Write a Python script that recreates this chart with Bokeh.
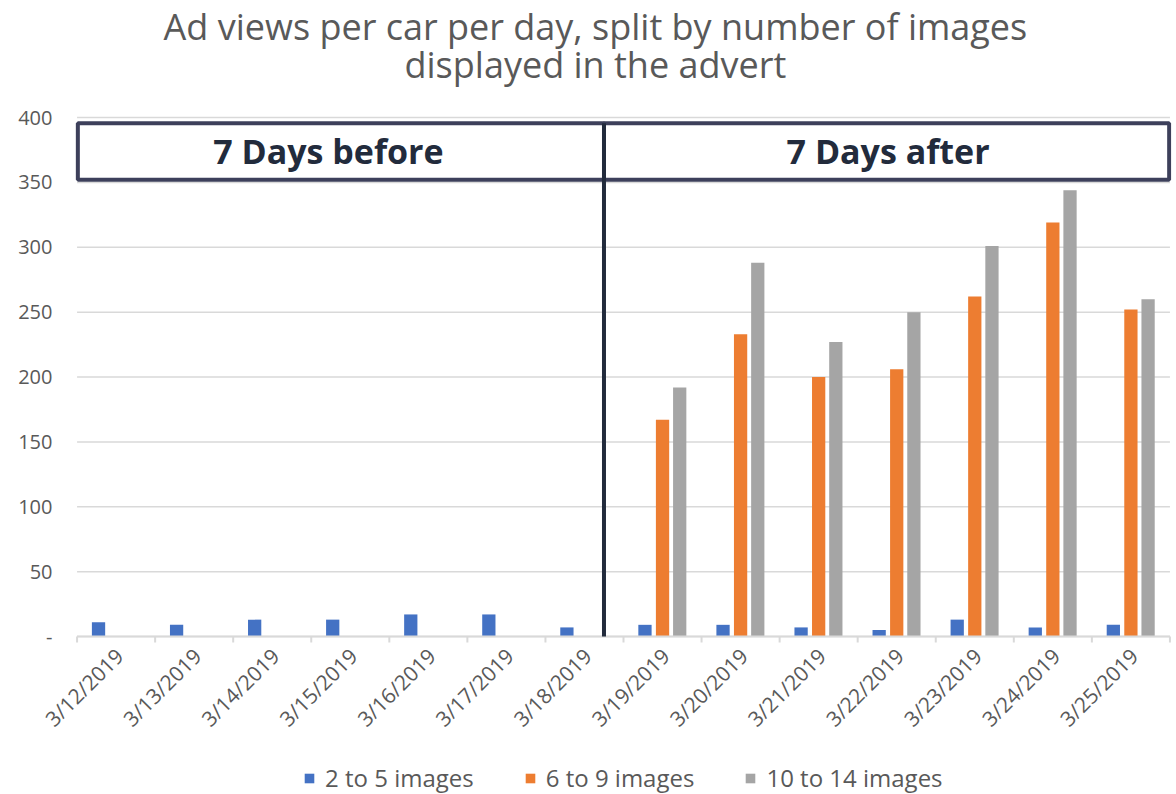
import math
from bokeh.plotting import figure
from bokeh.models import (FixedTicker, Range1d, Legend, LegendItem, ColumnDataSource)
from bokeh.core.properties import value
from bokeh.embed import file_html
from bokeh.resources import INLINE

dates = ["3/12/2019", "3/13/2019", "3/14/2019", "3/15/2019", "3/16/2019", "3/17/2019", "3/18/2019",
         "3/19/2019", "3/20/2019", "3/21/2019", "3/22/2019", "3/23/2019", "3/24/2019", "3/25/2019"]
s_2to5 = [11, 9, 13, 13, 17, 17, 7, 9, 9, 7, 5, 13, 7, 9]
s_6to9 = [0, 0, 0, 0, 0, 0, 0, 167, 233, 200, 206, 262, 319, 252]
s_10to14 = [0, 0, 0, 0, 0, 0, 0, 192, 288, 227, 250, 301, 344, 260]
series_names = ["2 to 5 images", "6 to 9 images", "10 to 14 images"]
series_colors = ["#4472c4", "#ed7d31", "#a5a5a5"]
y_ticks = [0, 50, 100, 150, 200, 250, 300, 350, 400]
period_labels = ["7 Days before", "7 Days after"]
title_lines = ["Ad views per car per day, split by number of images", "displayed in the advert"]

FONT = "Open Sans"
TXT = "#595959"
n = len(dates)
idx = list(range(n))

# The frame spans the whole page height; the value axis only runs 0-400,
# the space above holds the title and the space below the date labels and legend.
PX = 1.2975                 # pixels per value unit
Y_TOP = 400 + 117 / PX
Y_BOT = -158 / PX
X_LEFT = -0.52 - 40 / 78.06
p = figure(frame_width=1136, frame_height=794, min_border_left=35, min_border_right=2,
           min_border_top=0, min_border_bottom=0,
           x_range=Range1d(X_LEFT, n - 0.48), y_range=Range1d(Y_BOT, Y_TOP),
           output_backend="svg", toolbar_location=None, title=None)
p.outline_line_color = None
p.background_fill_color = "white"
p.xaxis.visible = False
p.xgrid.grid_line_color = None
p.ygrid.grid_line_color = None

# value gridlines across the category area
p.segment(x0=[-0.5] * len(y_ticks), x1=[n - 0.5] * len(y_ticks), y0=y_ticks, y1=y_ticks,
          line_color="#d9d9d9", line_width=1.5)

# title
p.text(x=[6.14, 6.14], y=[470.5, 440.5], text=title_lines,
       text_font=value(FONT), text_font_size="36px", text_color=TXT,
       text_align="center", text_baseline="middle")

# bars
offsets = [-0.225, 0.0, 0.22]
renderers = []
for vals, off, col in zip([s_2to5, s_6to9, s_10to14], offsets, series_colors):
    src = ColumnDataSource(dict(x=[i + off for i in idx], top=vals))
    r = p.vbar(x="x", top="top", width=0.17, bottom=0, source=src, fill_color=col, line_color=None)
    renderers.append(r)

# category axis: baseline, boundary ticks, rotated date labels
p.segment(x0=[-0.5], x1=[n - 0.5], y0=[0], y1=[0], line_color="#d9d9d9", line_width=2)
bounds = [i - 0.5 for i in range(n + 1)]
p.segment(x0=bounds, x1=bounds, y0=[0] * len(bounds), y1=[-6 / PX] * len(bounds),
          line_color="#d9d9d9", line_width=2)
p.text(x=[i + 0.04 for i in idx], y=[-12] * n, text=dates, angle=math.pi / 4,
       text_font=value(FONT), text_font_size="21px", text_color=TXT,
       text_align="right", text_baseline="middle")

# period boxes and divider
div_x = 6.25
p.quad(left=[-0.49, div_x], right=[div_x, n - 0.51], bottom=[352, 352], top=[395.5, 395.5],
       fill_color=None, line_color="#3d405b", line_width=4)
p.segment(x0=[div_x], x1=[div_x], y0=[0], y1=[395.5], line_color="#222b3c", line_width=4)
p.text(x=[2.72, 9.89], y=[374, 374], text=period_labels,
       text_font=value(FONT), text_font_size="34px", text_font_style="bold",
       text_color="#222b3c", text_align="center", text_baseline="middle")

# y axis
p.yaxis.ticker = FixedTicker(ticks=y_ticks)
p.yaxis.major_label_overrides = {0: "-"}
p.yaxis.axis_line_color = None
p.yaxis.major_tick_line_color = None
p.yaxis.minor_tick_line_color = None
p.yaxis.major_tick_out = 0
p.yaxis.major_tick_in = 0
p.yaxis.major_label_standoff = -17
p.yaxis.major_label_text_font = FONT
p.yaxis.major_label_text_font_size = "20px"
p.yaxis.major_label_text_color = TXT

legend = Legend(items=[LegendItem(label=nm, renderers=[r]) for nm, r in zip(series_names, renderers)],
                orientation="horizontal", location=(268, 0), margin=0, padding=2, spacing=50,
                glyph_width=12, glyph_height=12, label_standoff=10,
                label_text_font=FONT, label_text_font_size="24px", label_text_color=TXT,
                background_fill_alpha=0, border_line_color=None)
p.add_layout(legend, "center")

open("out.html", "w").write(file_html(p, INLINE))
